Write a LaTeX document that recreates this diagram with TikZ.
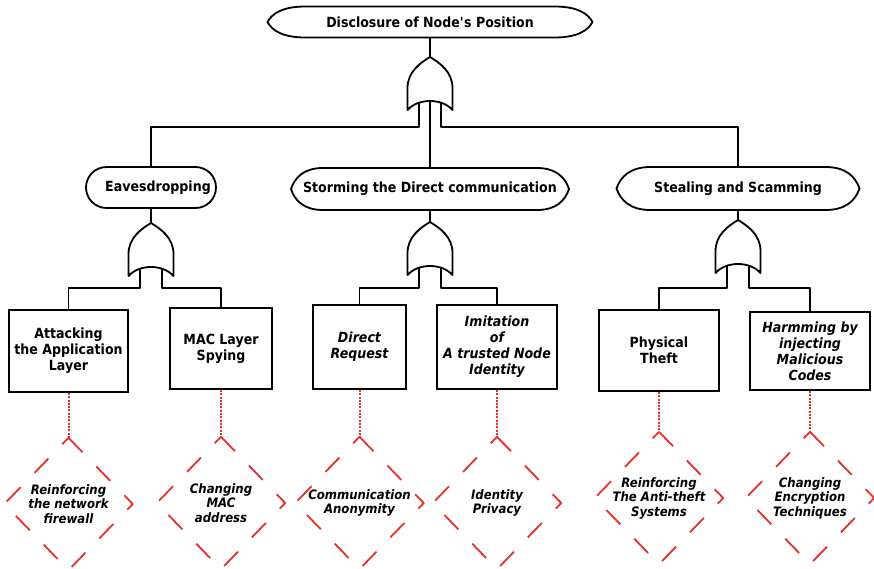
\documentclass[tikz,border=0pt]{standalone}
\usepackage{fontspec}
\setmainfont{DejaVu Sans}[FakeStretch=0.9]
\usetikzlibrary{calc}
\definecolor{cmred}{RGB}{232,48,40}

% lens-shaped event outline with a named text node on top of it
% #1 name, #2 cx, #3 cy, #4 half width, #5 half height, #6 end length, #7 text
\newcommand\lensnode[7]{%
  \draw[wire] ({#2-#4},#3)
    .. controls ({#2-#4+0.12*#6},{#3-0.55*#5}) and ({#2-#4+0.4*#6},{#3-#5}) .. ({#2-#4+#6},{#3-#5})
    -- ({#2+#4-#6},{#3-#5})
    .. controls ({#2+#4-0.4*#6},{#3-#5}) and ({#2+#4-0.12*#6},{#3-0.55*#5}) .. ({#2+#4},#3)
    .. controls ({#2+#4-0.12*#6},{#3+0.55*#5}) and ({#2+#4-0.4*#6},{#3+#5}) .. ({#2+#4-#6},{#3+#5})
    -- ({#2-#4+#6},{#3+#5})
    .. controls ({#2-#4+0.4*#6},{#3+#5}) and ({#2-#4+0.12*#6},{#3+0.55*#5}) .. cycle;
  \node[lbl, minimum width={2*#4}, minimum height={2*#5}] (#1) at (#2,#3) {#7};
}

\tikzset{
  wire/.style={line width=1.8pt, line join=round},
  lbl/.style={inner sep=0pt, align=center, font=\bfseries\fontsize{14}{16}\selectfont},
  box/.style={draw, line width=1.8pt, inner sep=0pt, align=center,
              font=\bfseries\fontsize{14}{16}\selectfont},
  itbox/.style={box, font=\bfseries\itshape\fontsize{14}{16}\selectfont},
  diatext/.style={inner sep=0pt, align=center, minimum width=128, minimum height=132,
              font=\bfseries\itshape\fontsize{13}{14.5}\selectfont},
  dia/.style={draw=cmred, line width=1.8pt, dash pattern=on 20pt off 20pt},
  reddot/.style={draw=cmred, line width=2pt, dash pattern=on 2pt off 1.3pt},
  orgate/.pic={
    \draw[wire] (-22.5,53) -- (-22.5,31)
      .. controls (-22.5,15) and (-10,6) .. (0,0)
      .. controls (10,6) and (22.5,15) .. (22.5,31)
      -- (22.5,53)
      .. controls (12,41) and (-12,41) .. cycle;
    \coordinate (-top) at (0,0);
    \coordinate (-l) at (-11,45.5);
    \coordinate (-r) at (11,45.5);
    \coordinate (-c) at (0,44);
  }
}

\begin{document}
\begin{tikzpicture}[x=1pt,y=-1pt]
  \path[use as bounding box, clip] (0,0) rectangle (874,568);
  \fill[white] (0,0) rectangle (874,568);

  % events
  \lensnode{T}{430}{22}{162.5}{15.5}{38}{Disclosure of Node\textquotesingle s Position}
  \node[lbl, draw, wire, rounded corners=20.5pt, minimum width=130, minimum height=41]
    (E) at (151,187.5) {\hspace*{14pt}Eavesdropping};
  \lensnode{S}{430}{189}{139}{21}{32}{Storming the Direct communication}
  \lensnode{K}{738}{188.5}{121.5}{21.5}{34}{Stealing and Scamming}

  % OR gates and the levels of their input buses
  \pic (g0) at (430,57) {orgate};
  \pic (g1) at (151,223) {orgate};
  \pic (g2) at (430,222) {orgate};
  \pic (g3) at (738,220) {orgate};
  \coordinate (bus0) at (430,127);
  \coordinate (bus1) at (151,288);
  \coordinate (bus2) at (430,288);
  \coordinate (bus3) at (738,288);

  % basic events
  \node[box, minimum width=119, minimum height=82] (A1) at (68.5,351) {Attacking\\the Application\\Layer};
  \node[box, minimum width=102, minimum height=81] (A2) at (221,348.5) {MAC Layer\\Spying};
  \node[itbox, minimum width=93, minimum height=84] (B1) at (359.5,347) {Direct\\Request};
  \node[itbox, minimum width=120, minimum height=84] (B2) at (497,347) {Imitation\\of\\A trusted Node\\Identity};
  \node[box, minimum width=120, minimum height=81] (C1) at (659,350.5) {Physical\\Theft};
  \node[itbox, minimum width=120, minimum height=78] (C2) at (810,351) {Harmming by\\injecting\\Malicious\\Codes};

  % countermeasures
  \node[diatext] (D1) at (68.5,504) {Reinforcing\\the network\\firewall};
  \node[diatext] (D2) at (221,503) {Changing\\MAC\\address};
  \node[diatext] (D3) at (359.5,503) {Communication\\Anonymity};
  \node[diatext] (D4) at (497,503) {Identity\\Privacy};
  \node[diatext] (D5) at (659,498) {Reinforcing\\The Anti-theft\\Systems};
  \node[diatext] (D6) at (810,498) {Changing\\Encryption\\Techniques};
  \foreach \d in {D1,D2,D3,D4,D5,D6}
    \draw[dia] (\d.north) -- (\d.east) -- (\d.south) -- (\d.west) -- cycle;

  % tree connectors
  \draw[wire] (g0-top |- T.south) -- (g0-top);
  \draw[wire] (g0-l) |- (E.north |- bus0) -- (E.north);
  \draw[wire] (g0-r) |- (K.north |- bus0) -- (K.north);
  \draw[wire] (g0-c) -- (S.north);

  \draw[wire] (E.south) -- (g1-top);
  \draw[wire] (S.south) -- (g2-top);
  \draw[wire] (K.south) -- (g3-top);

  \draw[wire] (g1-l) |- (A1.north |- bus1) -- (A1.north);
  \draw[wire] (g1-r) |- (A2.north |- bus1) -- (A2.north);
  \draw[wire] (g2-l) |- (B1.north |- bus2) -- (B1.north);
  \draw[wire] (g2-r) |- (B2.north |- bus2) -- (B2.north);
  \draw[wire] (g3-l) |- (C1.north |- bus3) -- (C1.north);
  \draw[wire] (g3-r) |- (C2.north |- bus3) -- (C2.north);

  % countermeasure links
  \draw[reddot] (A1.south) -- (D1.north);
  \draw[reddot] (A2.south) -- (D2.north);
  \draw[reddot] (B1.south) -- (D3.north);
  \draw[reddot] (B2.south) -- (D4.north);
  \draw[reddot] (C1.south) -- (D5.north);
  \draw[reddot] (C2.south) -- (D6.north);
\end{tikzpicture}
\end{document}
